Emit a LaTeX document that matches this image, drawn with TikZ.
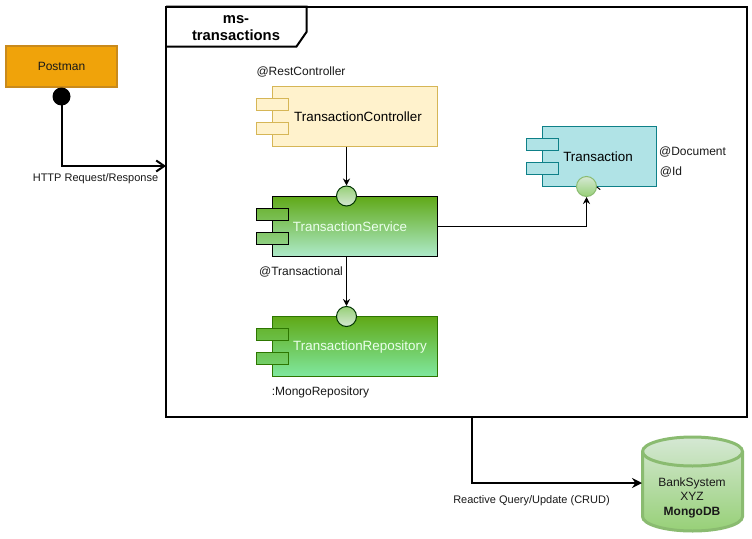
\documentclass[tikz,border=0pt]{standalone}
\usepackage{fontspec}
\setmainfont{Liberation Sans}
\usetikzlibrary{arrows.meta,shapes.geometric,calc}
\definecolor{ornF}{HTML}{F0A30A}\definecolor{ornS}{HTML}{C98A1C}
\definecolor{yelF}{HTML}{FFF2CC}\definecolor{yelS}{HTML}{D6B656}
\definecolor{grnT}{HTML}{60A917}\definecolor{grnS}{HTML}{2D7600}
\definecolor{cyaF}{HTML}{B0E3E6}\definecolor{cyaS}{HTML}{0E8088}
\definecolor{lgT}{HTML}{D5E8D4}\definecolor{lgB}{HTML}{97D077}\definecolor{lgS}{HTML}{8ABB70}
\definecolor{svcB}{HTML}{AEEACB}\definecolor{repB}{HTML}{80E8A0}
\tikzset{
 box/.style={rectangle,inner sep=0pt,line width=1pt,minimum width=#1},
 body/.style={box=165pt,minimum height=60pt},
 tabb/.style={box=32pt,minimum height=12pt},
 ctrlc/.style={draw=yelS,fill=yelF},
 tranc/.style={draw=cyaS,fill=cyaF},
 svcc/.style={draw=black,top color=grnT,bottom color=svcB},
 svcu/.style={draw=black,top color=grnT!80!svcB,bottom color=grnT!65!svcB},
 svcd/.style={draw=black,top color=grnT!55!svcB,bottom color=grnT!40!svcB},
 repc/.style={draw=grnS,top color=grnT,bottom color=repB},
 repu/.style={draw=grnS,top color=grnT!80!repB,bottom color=grnT!65!repB},
 repd/.style={draw=grnS,top color=grnT!55!repB,bottom color=grnT!40!repB},
 lolly/.style={circle,inner sep=0pt,minimum size=20pt,line width=1pt,draw=black!80!green,top color=lgB,bottom color=lgT},
 lab/.style={inner sep=0pt,font=\fontsize{12}{14}\selectfont,text=black!90},
 small/.style={inner sep=0pt,font=\fontsize{11}{13}\selectfont,text=black!90},
 comp/.style={inner sep=0pt,font=\fontsize{13.4}{15}\selectfont},
 conn/.style={line width=1pt,-{Stealth[length=7pt,width=7pt]}},
 thick2/.style={line width=2pt}
}
\begin{document}
\begin{tikzpicture}[x=1pt,y=-1pt]
\useasboundingbox (0,0) rectangle (752,538);
\fill[white] (0,0) rectangle (752,538);
% frame
\node[rectangle,draw=black,line width=2pt,inner sep=0pt,minimum width=581pt,minimum height=410pt] (frame) at (456.5,211.5) {};
\draw[line width=2pt,line join=miter] (166,6.5) -- (306.5,6.5) -- (306.5,32) -- (296.5,46.5) -- (166,46.5);
\node[inner sep=0pt,align=center,font=\fontsize{14.8}{17.8}\selectfont\bfseries] (title) at (236,28) {ms-\\transactions};
% postman
\node[box=111pt,minimum height=41pt,draw=ornS,fill=ornF,line width=1.5pt] (post) at (61.5,66.5) {};
\node[lab] (postt) at (61.5,66.5) {Postman};
\node[circle,fill=black,inner sep=0pt,minimum size=18pt] (dot) at (61.5,96.5) {};
\coordinate (frameIn) at (166,166);
\draw[thick2,-{Straight Barb[length=8pt,width=11pt]}] (dot.center) |- (frameIn);
\node[small] (httpl) at (95.5,178.5) {HTTP Request/Response};
% controller
\node[body,ctrlc] (ctrl) at (354.5,116) {};
\node[tabb,ctrlc] (ctrla) at (272.5,104.3) {};
\node[tabb,ctrlc] (ctrlb) at (272.5,128.3) {};
\node[comp] (ctrlt) at (358,117) {TransactionController};
\node[lab] (ctrll) at (301,72) {@RestController};
% service
\node[body,svcc] (svc) at (354.5,226.5) {};
\node[tabb,svcu] (svca) at (272.5,214.3) {};
\node[tabb,svcd] (svcb) at (272.5,238.3) {};
\node[comp,text=white!92!green] (svct) at (350,227) {TransactionService};
\node[lolly] (svcl) at (346.5,196) {};
\node[lab] (svcn) at (301,272) {@Transactional};
% repository
\node[body,repc] (repo) at (354.5,346.7) {};
\node[tabb,repu] (repoa) at (272.5,334.3) {};
\node[tabb,repd] (repob) at (272.5,358.3) {};
\node[comp,text=white!92!green] (repot) at (360,347) {TransactionRepository};
\node[lolly] (repol) at (346.5,316.5) {};
\node[lab] (repon) at (320.5,392) {:MongoRepository};
% transaction
\node[box=114.5pt,minimum height=60pt,tranc] (tran) at (599.5,156.3) {};
\node[tabb,tranc] (trana) at (542.5,144.3) {};
\node[tabb,tranc] (tranb) at (542.5,168.3) {};
\node[comp] (trant) at (598,156.5) {Transaction};
\node[lolly,draw=lgS,top color=lgT,bottom color=lgB] (tranl) at (586.5,186.5) {};
\node[lab] (trand) at (692.5,152) {@Document};
\node[lab] (trani) at (671,172) {@Id};
% connectors
\draw[conn] (ctrl.south -| svcl) -- (svcl.north);
\draw[conn] (svc.south -| repol) -- (repol.north);
\draw[conn] (svc.east) -| (tranl.south);
\draw[line width=1pt,line cap=round] (597,187) -- (600,189.5);
% database
\path[draw=lgS,line width=3pt,top color=lgT,bottom color=lgB]
  (642.5,451.5) -- (642.5,516.5) arc[start angle=180,end angle=360,x radius=50pt,y radius=14.5pt] -- (742.5,451.5)
  arc[start angle=0,end angle=180,x radius=50pt,y radius=14.5pt] -- cycle;
\draw[draw=lgS,line width=3pt] (642.5,451.5) arc[start angle=180,end angle=360,x radius=50pt,y radius=14.5pt];
\coordinate (dbIn) at (642,483);
\coordinate (frameOut) at (472,416);
\node[lab,align=center,inner sep=0pt,font=\fontsize{12}{14.5}\selectfont] (dbt) at (692,497.5) {BankSystem\\XYZ\\\textbf{MongoDB}};
\draw[thick2,-{Stealth[length=10pt,width=10pt]}] (frameOut) |- (dbIn);
\node[small] (dbl) at (531.5,501) {Reactive Query/Update (CRUD)};
\end{tikzpicture}
\end{document}
